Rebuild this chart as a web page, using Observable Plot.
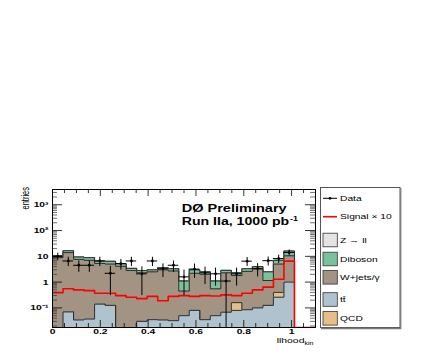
<!DOCTYPE html>
<html><head><meta charset="utf-8">
<script src="https://cdn.jsdelivr.net/npm/d3@7"></script>
<script src="https://cdn.jsdelivr.net/npm/@observablehq/plot@0.6"></script>
<style>
html,body{margin:0;padding:0;background:#fff;}
#chart{position:relative;width:436px;height:354px;}
svg{display:block;}
</style></head><body><div id="chart"></div>
<script>
// ---- data ----
const binEdges = [0,0.044,0.088,0.132,0.176,0.22,0.264,0.308,0.352,0.396,0.44,0.484,0.528,0.572,0.616,0.66,0.704,0.748,0.792,0.836,0.88,0.924,0.968,1.012,1.056,1.1];
const ttbar   = [0.005,0.07,0.034,0.037,0.14,0.125,0.005,0.005,0.03,0.035,0.034,0.032,0.05,0.08,0.035,0.05,0.068,0.08,0.085,0.1,0.125,0.26,1.0,0,0];
const qcd     = [0,0,0,0,0,0,0,0,0,0,0,0,0,0,0,0,0,0.08,0,0,0,0.14,0,0,0];
const wjets   = [8.9,13.9,7.57,6.96,5.16,4.88,4.1,2.8,2.27,2.47,2.97,2.67,0.40,2.12,1.97,0.50,2.23,1.64,2.52,3.1,1.03,4.6,9.5,0,0];
const diboson = [1.6,2.5,1.8,1.9,1.3,1.4,1.1,0.6,0.5,0.5,0.6,0.6,0.65,0.8,0.5,0.55,0.55,0.5,0.7,0.8,1.35,2.0,5.5,0,0];
const zll     = [0.02,0.02,0.02,0.02,0.02,0.02,0.02,0.02,0.02,0.02,0.02,0.02,0.02,0.02,0.02,0.02,0.02,0.02,0.02,0.02,0.02,0.02,0.02,0,0];
const signal10 = [0.39,0.55,0.5,0.47,0.37,0.37,0.3,0.26,0.23,0.28,0.19,0.28,0.3,0.28,0.3,0.29,0.32,0.3,0.37,0.5,0.64,1.3,6.5,0,0];
const dataVal = [10,6.6,4.5,4.5,6.6,2.2,5.2,6.6,2.1,6.6,3.3,4.5,1.6,3.2,2.3,2.1,1.1,2.1,6.5,3.4,6.8,8.2,14];
const dataErr = [3.3,2.6,2.1,2.1,2.6,1.9,2.3,2.6,1.8,2.6,1.8,2.1,1.3,1.8,1.5,1.4,1.1,1.4,2.5,1.8,2.6,2.9,3.7];
const xTicks = [0,0.2,0.4,0.6,0.8,1];
const xTickLabels = ["0","0.2","0.4","0.6","0.8","1"];
const yTicks = [0.1,1,10,100,1000];
const yTickLabels = ["10⁻¹","1","10","10²","10³"];
const legendLabels = ["Data","Signal × 10","Z → ll","Diboson","W+jets/γ","tt\u0304","QCD"];
const colors = {zll:"#e4e4e4", diboson:"#7ac29b", wjets:"#a39383", qcd:"#e6bf88", ttbar:"#afc3ce"};

// ---- layout ----
const WIDTH = 436, HEIGHT = 354, ML = 52, MR = 121, MT = 189, MB = 27;
const PW = WIDTH - ML - MR, PH = HEIGHT - MT - MB;
const YMIN = 0.0174, YMAX = 3900;
const STRETCH = 1.37;
const FONT = "'Liberation Sans', Arial, Helvetica, sans-serif";

const n = binEdges.length - 1;
const bins = d3.range(n);
const cum = arrs => bins.map(i => d3.sum(arrs, a => a[i]));
const steps = vals => binEdges.map((x, i) => ({x, y: Math.max(vals[Math.min(i, n - 1)], YMIN)}));

const layers = [
  {vals: cum([ttbar, qcd, wjets, diboson, zll]), fill: colors.zll},
  {vals: cum([ttbar, qcd, wjets, diboson]), fill: colors.diboson},
  {vals: cum([ttbar, qcd, wjets]), fill: colors.wjets},
  {vals: cum([ttbar, qcd]), fill: colors.qcd},
  {vals: ttbar, fill: colors.ttbar}
];

const marks = [];
for (const L of layers) {
  const s = steps(L.vals);
  marks.push(Plot.areaY(s, {x: "x", y1: YMIN, y2: "y", curve: "step-after", fill: L.fill, clip: true}));
  marks.push(Plot.line(s, {x: "x", y: "y", curve: "step-after", stroke: "#2e2e2e", strokeWidth: 1, clip: true}));
}
marks.push(Plot.line(steps(signal10), {x: "x", y: "y", curve: "step-after", stroke: "#ff0000", strokeWidth: 1.6, clip: true}));

const dataPts = dataVal.map((v, i) => ({
  x: (binEdges[i] + binEdges[i + 1]) / 2, x1: binEdges[i], x2: binEdges[i + 1],
  y: v, lo: Math.max(v - dataErr[i], YMIN), hi: v + dataErr[i]
}));
marks.push(Plot.ruleX(dataPts, {x: "x", y1: "lo", y2: "hi", stroke: "black", strokeWidth: 1, clip: true}));
marks.push(Plot.ruleY(dataPts, {y: "y", x1: "x1", x2: "x2", stroke: "black", strokeWidth: 1, clip: true}));
marks.push(Plot.dot(dataPts, {x: "x", y: "y", r: 1.4, fill: "black", stroke: null}));

// ticks (inside the frame, on all four sides)
const xMinor = d3.range(1, 23).map(i => +(i * 0.05).toFixed(2)).filter(v => Math.abs(v / 0.2 - Math.round(v / 0.2)) > 1e-6);
const yMinor = [];
for (const dec of [0.01, 0.1, 1, 10, 100, 1000]) for (let k = 2; k <= 9; k++) { const v = k * dec; if (v > YMIN && v < YMAX) yMinor.push(v); }
const tk = {stroke: "black", strokeWidth: 0.8};
marks.push(Plot.tickX(xTicks, {x: d => d, insetTop: PH - 7, ...tk}));
marks.push(Plot.tickX(xTicks, {x: d => d, insetBottom: PH - 7, ...tk}));
marks.push(Plot.tickX(xMinor, {x: d => d, insetTop: PH - 4, ...tk}));
marks.push(Plot.tickX(xMinor, {x: d => d, insetBottom: PH - 4, ...tk}));
marks.push(Plot.tickY(yTicks, {y: d => d, insetRight: PW - 10, ...tk}));
marks.push(Plot.tickY(yTicks, {y: d => d, insetLeft: PW - 10, ...tk}));
marks.push(Plot.tickY(yMinor, {y: d => d, insetRight: PW - 5, stroke: "#333", strokeWidth: 0.7}));
marks.push(Plot.tickY(yMinor, {y: d => d, insetLeft: PW - 5, stroke: "#333", strokeWidth: 0.7}));
marks.push(Plot.frame({stroke: "black", strokeWidth: 1}));

const xLab = new Map(xTicks.map((t, i) => [t, xTickLabels[i]]));
const yLab = new Map(yTicks.map((t, i) => [t, yTickLabels[i]]));
marks.push(Plot.axisX(xTicks, {tickSize: 0, tickPadding: 1, tickFormat: d => xLab.get(d) ?? String(d), label: null, fontWeight: "bold", fontSize: 7.5}));
marks.push(Plot.axisY(yTicks, {tickSize: 0, tickPadding: 4, tickFormat: d => yLab.get(d) ?? String(d), label: null, fontWeight: "bold", fontSize: 7.5}));

const plot = Plot.plot({
  width: WIDTH, height: HEIGHT,
  marginLeft: ML, marginRight: MR, marginTop: MT, marginBottom: MB,
  style: {fontFamily: FONT, background: "white", color: "black"},
  x: {domain: [0, 1.1]},
  y: {type: "log", domain: [YMIN, YMAX]},
  marks
});
document.getElementById("chart").appendChild(plot);

// stretch axis tick labels horizontally like the reference (keep y / dy untouched)
const svg = d3.select(plot.tagName.toLowerCase() === "svg" ? plot : plot.querySelector("svg"));
svg.selectAll("text").each(function () {
  const xa = this.getAttribute("x");
  const x = xa && !/em/.test(xa) ? +xa : 0;
  if (xa && !/em/.test(xa)) this.removeAttribute("x");
  const t = this.getAttribute("transform") || "";
  this.setAttribute("transform", `${t} translate(${x},0) scale(${STRETCH},1)`);
});

const txt = (sel) => sel.append("text").attr("text-anchor", "start").attr("font-family", FONT).attr("fill", "black");

// axis titles
txt(svg).attr("text-anchor", "end").attr("transform", `translate(29,187) scale(${STRETCH},1) rotate(-90)`)
  .attr("font-size", 7.5).text("entries");
const xt = txt(svg).attr("transform", `translate(276.7,342.5) scale(1.3,1)`).attr("font-size", 8);
xt.append("tspan").text("llhood");
xt.append("tspan").attr("font-size", 5.5).attr("dy", 2.5).text("kin");

// title
txt(svg).attr("x", 181.7).attr("y", 211.5).attr("font-weight", "bold")
  .attr("font-size", 11.5).attr("textLength", 105).attr("lengthAdjust", "spacingAndGlyphs").text("DØ Preliminary");
txt(svg).attr("x", 181.7).attr("y", 225.3).attr("font-weight", "bold")
  .attr("font-size", 11.5).attr("textLength", 107.5).attr("lengthAdjust", "spacingAndGlyphs").text("Run IIa, 1000 pb");
txt(svg).attr("x", 290).attr("y", 220.5).attr("font-weight", "bold")
  .attr("font-size", 7).attr("textLength", 8).attr("lengthAdjust", "spacingAndGlyphs").text("-1");

// legend
const lg = svg.append("g");
lg.append("rect").attr("x", 320.5).attr("y", 187.5).attr("width", 79.5).attr("height", 140)
  .attr("fill", "white").attr("stroke", "#555").attr("stroke-width", 1);
lg.append("line").attr("x1", 321).attr("x2", 401).attr("y1", 328.5).attr("y2", 328.5).attr("stroke", "#777").attr("stroke-width", 1.5);
lg.append("line").attr("x1", 400.8).attr("x2", 400.8).attr("y1", 188).attr("y2", 329).attr("stroke", "#777").attr("stroke-width", 1.2);
const legendY = [198.3, 216.7, 240, 259, 277.3, 299.5, 318.3];
const swatch = [null, null, colors.zll, colors.diboson, colors.wjets, colors.ttbar, colors.qcd];
legendLabels.forEach((lab, i) => {
  const y = legendY[i];
  if (i === 0) {
    lg.append("line").attr("x1", 323).attr("x2", 337).attr("y1", y).attr("y2", y).attr("stroke", "black").attr("stroke-width", 1);
    lg.append("circle").attr("cx", 330).attr("cy", y).attr("r", 1.4).attr("fill", "black");
  } else if (i === 1) {
    lg.append("line").attr("x1", 323).attr("x2", 337).attr("y1", y).attr("y2", y).attr("stroke", "#ff0000").attr("stroke-width", 1.6);
  } else {
    lg.append("rect").attr("x", 323).attr("y", y - 6.8).attr("width", 14.3).attr("height", 13.6)
      .attr("fill", swatch[i]).attr("stroke", "#333").attr("stroke-width", 0.8);
  }
  txt(lg).attr("transform", `translate(340,${y + 2.7}) scale(${STRETCH},1)`).attr("font-size", 7.5).text(lab);
});
</script></body></html>
